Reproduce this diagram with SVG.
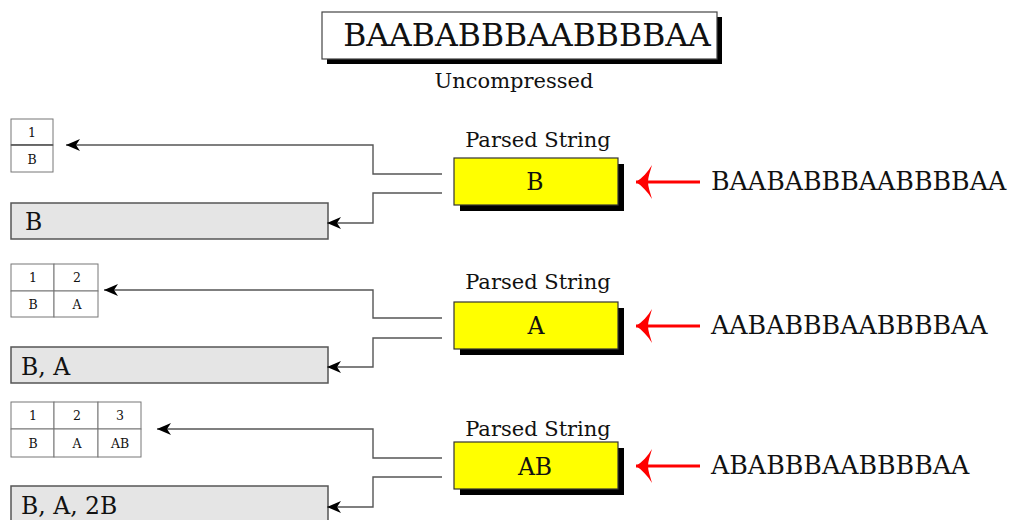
<svg xmlns="http://www.w3.org/2000/svg" width="1010" height="520" viewBox="0 0 1010 520">
<style>
text{font-family:"DejaVu Serif","Liberation Serif",serif;fill:#111}
.big{font-size:31.5px}
.lbl{font-size:21px}
.inp{font-size:25.3px}
.box{font-size:23.5px}
.tb{font-size:12.5px;text-anchor:middle}
.mid{text-anchor:middle}
.ybox{fill:#ffff00;stroke:#333;stroke-width:1.2}
.shadow{fill:#000}
.gbox{fill:#e5e5e5;stroke:#555;stroke-width:1.5}
.cell{fill:#fff;stroke:#777;stroke-width:1}
.conn{fill:none;stroke:#555;stroke-width:1.4}
.red{fill:none;stroke:#ff0000;stroke-width:3}
</style>
<defs>
<marker id="ah" markerUnits="userSpaceOnUse" markerWidth="14" markerHeight="12" viewBox="0 0 14 12" refX="14" refY="6" orient="auto">
<path d="M14,6 L0,0 L4,6 L0,12 Z" fill="#000"/>
</marker>
<marker id="rh" markerUnits="userSpaceOnUse" markerWidth="18" markerHeight="34" viewBox="0 0 18 34" refX="17" refY="17" orient="auto">
<path d="M17,17 C11,13 5,7 1,0 C3,7 5,12 5,17 C5,22 3,27 1,34 C5,27 11,21 17,17 Z" fill="#ff0000"/>
</marker>
</defs>

<g id="uncompressed">
<rect x="327" y="17" width="395" height="47" class="shadow"/>
<rect x="322" y="12" width="395" height="47" fill="#fff" stroke="#444" stroke-width="1.2"/>
<text x="527" y="46" class="big mid">BAABABBBAABBBBAA</text>
<text x="514" y="88" class="lbl mid">Uncompressed</text>
</g>

<!-- Section 1 -->
<g id="table1">
<rect x="11" y="119" width="42" height="26" class="cell"/>
<rect x="11" y="145" width="42" height="27" class="cell"/>
<line x1="11" y1="145" x2="53" y2="145" stroke="#555" stroke-width="1.5"/>
<text x="32" y="137" class="tb">1</text>
<text x="32" y="164" class="tb">B</text>
</g>
<g id="output1">
<rect x="11" y="203" width="317" height="36" class="gbox"/>
<text x="25" y="230" class="box">B</text>
</g>
<g id="parsed1">
<text x="538" y="147" class="lbl mid">Parsed String</text>
<rect x="460" y="164" width="164" height="47" class="shadow"/>
<rect x="454" y="158" width="164" height="47" class="ybox"/>
<text x="535" y="190" class="box mid">B</text>
</g>
<g id="input1">
<text x="711" y="190" class="inp">BAABABBBAABBBBAA</text>
</g>

<!-- Section 2 -->
<g id="table2">
<rect x="11" y="264" width="43" height="27" class="cell"/>
<rect x="54" y="264" width="44" height="27" class="cell"/>
<rect x="11" y="291" width="43" height="26" class="cell"/>
<rect x="54" y="291" width="44" height="26" class="cell"/>
<text x="33" y="282" class="tb">1</text>
<text x="77" y="282" class="tb">2</text>
<text x="33" y="309" class="tb">B</text>
<text x="77" y="309" class="tb">A</text>
</g>
<g id="output2">
<rect x="11" y="347" width="317" height="36" class="gbox"/>
<text x="21" y="375" class="box">B, A</text>
</g>
<g id="parsed2">
<text x="538" y="289" class="lbl mid">Parsed String</text>
<rect x="460" y="308" width="164" height="47" class="shadow"/>
<rect x="454" y="302" width="164" height="47" class="ybox"/>
<text x="536" y="334" class="box mid">A</text>
</g>
<g id="input2">
<text x="711" y="334" class="inp">AABABBBAABBBBAA</text>
</g>

<!-- Section 3 -->
<g id="table3">
<rect x="11" y="402" width="43" height="27" class="cell"/>
<rect x="54" y="402" width="44" height="27" class="cell"/>
<rect x="98" y="402" width="43" height="27" class="cell"/>
<rect x="11" y="429" width="43" height="28" class="cell"/>
<rect x="54" y="429" width="44" height="28" class="cell"/>
<rect x="98" y="429" width="43" height="28" class="cell"/>
<text x="33" y="420" class="tb">1</text>
<text x="77" y="420" class="tb">2</text>
<text x="120" y="420" class="tb">3</text>
<text x="33" y="448" class="tb">B</text>
<text x="77" y="448" class="tb">A</text>
<text x="120" y="448" class="tb">AB</text>
</g>
<g id="output3">
<rect x="11" y="486" width="317" height="40" class="gbox"/>
<text x="21" y="514" class="box">B, A, 2B</text>
</g>
<g id="parsed3">
<text x="538" y="436" class="lbl mid">Parsed String</text>
<rect x="460" y="448" width="164" height="47" class="shadow"/>
<rect x="454" y="442" width="164" height="47" class="ybox"/>
<text x="535" y="475" class="box mid">AB</text>
</g>
<g id="input3">
<text x="711" y="474" class="inp">ABABBBAABBBBAA</text>
</g>

<g id="connectors">
<path d="M442,174 H373 V145 H66" class="conn" marker-end="url(#ah)"/>
<path d="M442,193 H373 V223 H327" class="conn" marker-end="url(#ah)"/>
<path d="M442,318 H373 V290 H104" class="conn" marker-end="url(#ah)"/>
<path d="M442,338 H373 V367 H327" class="conn" marker-end="url(#ah)"/>
<path d="M442,458 H373 V429 H157" class="conn" marker-end="url(#ah)"/>
<path d="M442,477 H373 V507 H327" class="conn" marker-end="url(#ah)"/>
<path d="M700,182 H636" class="red" marker-end="url(#rh)"/>
<path d="M700,326 H636" class="red" marker-end="url(#rh)"/>
<path d="M700,466 H636" class="red" marker-end="url(#rh)"/>
</g>
</svg>
